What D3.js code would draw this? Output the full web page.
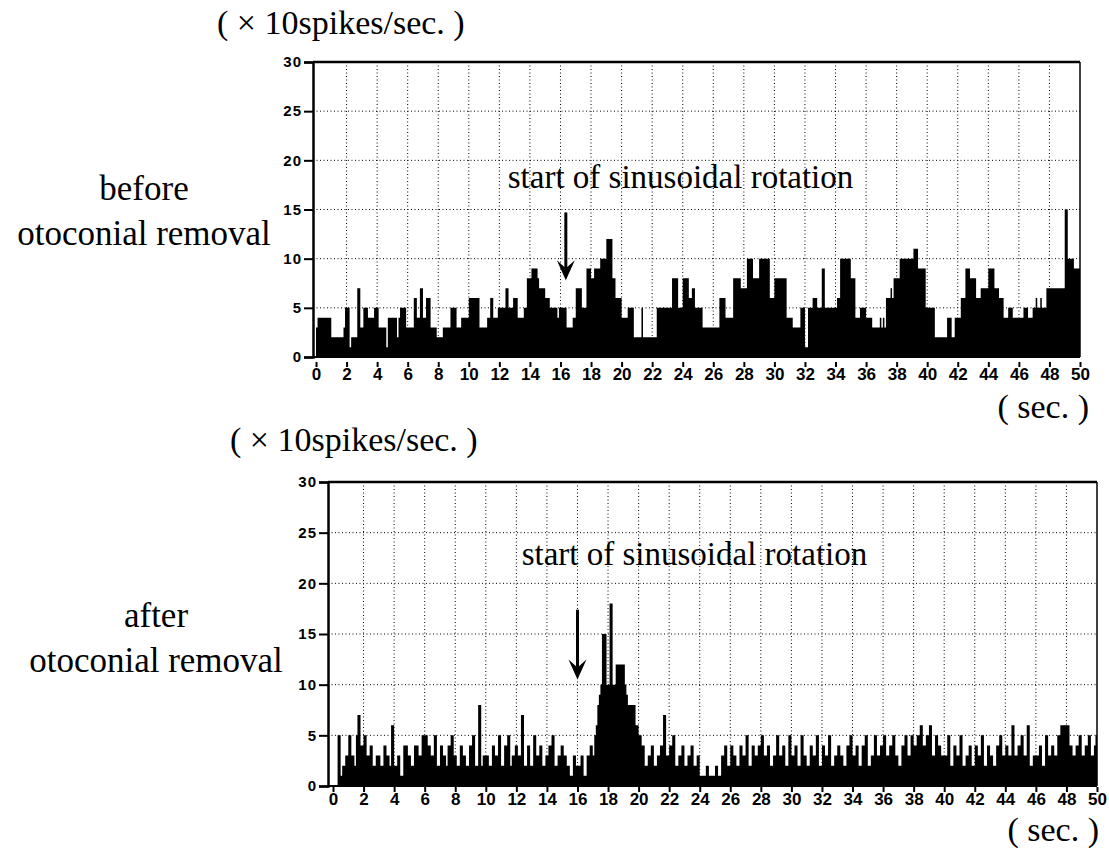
<!DOCTYPE html>
<html>
<head>
<meta charset="utf-8">
<script src="https://cdn.jsdelivr.net/npm/d3@7"></script>
<style>
  body { margin: 0; background: #fff; }
  .serif { font-family: "Liberation Serif", "Times New Roman", serif; fill: #000; }
  .tick text { font-family: "Liberation Sans", Arial, sans-serif; font-weight: bold; fill: #000; }
</style>
</head>
<body>
<svg id="chart" width="1109" height="850"></svg>
<script>
// spike counts per 0.1 s bin (x10 spikes/sec), one row = 2 s
const binWidth = 0.1;
const beforeCounts = [
  3,4,4,4,4,4,4,4,4,4,2,2,2,2,2,2,2,2,3,5,
  5,5,1,2,2,2,2,7,7,3,3,5,5,5,4,4,4,4,5,5,
  5,3,3,3,3,3,1,4,4,4,4,4,4,2,4,5,5,5,5,3,
  3,3,3,3,6,6,4,4,7,7,4,4,6,6,6,3,3,3,3,2,
  2,2,2,3,3,3,3,3,5,5,5,5,3,3,3,4,4,4,4,4,
  6,6,6,6,6,6,6,3,3,3,3,3,4,4,6,6,4,4,4,5,
  5,5,5,5,7,7,5,5,5,6,6,6,4,4,4,4,5,5,8,8,
  8,9,9,9,9,8,7,7,7,7,6,6,6,5,5,5,5,5,4,5,
  5,5,5,5,3,3,3,3,4,4,7,7,7,7,5,5,5,9,9,9,
  8,8,9,9,9,9,10,10,10,10,12,12,12,12,8,8,6,6,6,6,
  4,4,4,4,5,5,5,5,2,2,2,2,2,5,2,2,2,2,2,2,
  2,2,2,5,5,5,5,5,5,5,5,5,5,8,8,8,8,5,5,5,
  8,8,8,8,6,6,7,7,5,5,5,5,5,3,3,3,3,3,3,3,
  3,3,3,3,6,6,6,6,4,4,4,4,4,8,8,8,8,8,7,7,
  7,7,10,10,10,10,8,8,8,8,10,10,10,10,10,10,10,6,6,6,
  8,8,8,8,8,8,8,8,4,4,4,4,3,3,3,3,3,5,5,5,
  1,1,5,5,5,6,6,6,5,5,5,9,9,5,5,5,5,5,5,5,
  5,6,6,10,10,10,10,10,10,10,8,8,8,4,4,4,5,5,5,5,
  4,4,4,4,3,3,3,3,3,4,3,4,3,6,6,6,7,6,8,8,
  8,8,10,10,10,10,10,10,10,10,10,11,11,11,9,9,9,9,9,5,
  5,5,5,5,5,2,2,2,2,2,2,2,2,4,4,4,2,2,4,4,
  4,4,6,6,6,9,9,9,8,8,8,8,6,6,6,7,7,7,7,7,
  9,9,9,9,7,7,7,6,6,6,4,4,4,5,5,5,4,4,4,4,
  4,4,4,5,5,5,4,4,4,5,5,6,5,5,6,5,5,5,7,7,
  7,7,7,7,7,7,7,7,7,7,15,15,10,10,10,10,9,9,9,9
];
const afterCounts = [
  0,0,0,5,5,1,2,2,3,3,5,5,3,3,2,5,7,7,4,4,
  5,5,3,3,4,4,2,2,3,3,3,2,2,4,4,3,3,2,6,6,
  2,2,3,3,1,1,4,4,4,3,3,2,2,4,4,4,3,3,5,5,
  5,5,4,4,3,3,5,5,2,2,4,4,3,3,2,4,4,5,5,3,
  3,2,2,4,4,3,3,2,2,4,4,5,5,2,2,8,8,2,3,3,
  3,3,2,2,4,4,3,3,5,5,2,2,4,4,5,5,2,3,3,4,
  4,3,3,7,7,2,2,4,4,2,2,5,5,3,3,4,4,2,2,3,
  3,4,4,5,5,2,2,3,3,4,4,3,3,2,2,1,1,3,3,2,
  2,2,3,3,1,1,3,3,4,4,3,5,6,8,9,10,15,15,15,10,
  10,18,18,10,10,12,12,12,12,12,12,10,9,8,8,8,8,8,6,6,
  5,5,4,4,2,2,3,3,4,4,2,2,3,3,4,4,7,7,3,3,
  4,4,5,5,2,2,3,3,4,4,2,2,3,3,4,4,2,2,3,3,
  1,1,1,1,2,2,1,1,1,1,2,2,1,1,3,3,4,4,2,2,
  4,4,3,3,2,2,4,4,3,3,5,5,2,2,4,4,3,3,4,4,
  5,5,3,3,4,4,2,2,3,3,5,5,3,3,4,4,2,2,5,5,
  3,3,4,4,2,2,5,5,3,3,2,2,4,4,3,3,5,5,2,2,
  4,4,3,3,5,5,2,2,3,3,4,4,3,3,2,2,4,4,5,5,
  3,3,4,4,2,2,4,4,5,5,2,2,3,3,5,5,3,3,4,4,
  5,5,3,3,4,4,5,5,3,3,2,2,4,4,5,5,3,3,5,5,
  4,4,5,5,6,6,4,4,5,5,6,6,3,3,5,5,4,4,3,3,
  3,3,5,5,2,2,4,4,3,3,5,5,2,2,3,3,4,4,2,2,
  4,4,3,3,5,5,2,2,4,4,3,3,2,2,4,4,5,5,3,3,
  4,4,3,3,6,6,3,3,4,4,5,5,3,3,6,6,2,2,3,3,
  3,3,4,4,2,2,5,5,3,3,4,4,3,3,5,5,6,6,6,6,
  6,6,4,4,3,3,4,4,5,5,3,3,4,4,5,5,3,3,4,5
];
const xTicks = d3.range(0, 51, 2);
const yTicks = [0, 5, 10, 15, 20, 25, 30];
const xGrid = d3.range(2, 50, 2);
const yGrid = [5, 10, 15, 20, 25];
const unitLabel = "( \u00d7 10spikes/sec. )";
const timeLabel = "( sec. )";
const noteLabel = "start of sinusoidal rotation";
// arrow: [time, from value, to value]; note text anchor: [time, value]
const beforeArrow = [16.35, 14.7, 7.8];
const afterArrow = [16.0, 17.4, 10.5];
const beforeNote = [12.55, 17.2];
const afterNote = [12.35, 21.8];

const svg = d3.select("#chart");

function drawPanel(p) {
  const x = d3.scaleLinear().domain([0, 50]).range([p.x0, p.x1]);
  const y = d3.scaleLinear().domain([0, 30]).range([p.y0, p.y1]);
  const g = svg.append("g");

  // dotted grid
  g.selectAll(".vgrid").data(xGrid).join("line")
    .attr("x1", d => x(d)).attr("x2", d => x(d))
    .attr("y1", y(30)).attr("y2", y(0))
    .attr("stroke", "#000").attr("stroke-width", 1)
    .attr("stroke-dasharray", "1,2.5");
  g.selectAll(".hgrid").data(yGrid).join("line")
    .attr("x1", p.axisX).attr("x2", x(50))
    .attr("y1", d => y(d)).attr("y2", d => y(d))
    .attr("stroke", "#000").attr("stroke-width", 1)
    .attr("stroke-dasharray", "1,2.5");

  // histogram drawn as one stepped area so the bins join up
  const steps = p.counts.concat([p.counts[p.counts.length - 1]]);
  const area = d3.area()
    .x((d, i) => x(i * binWidth))
    .y0(y(0))
    .y1(d => y(d))
    .curve(d3.curveStepAfter);
  g.append("path").datum(steps).attr("d", area).attr("fill", "#000");

  // frame
  g.append("line").attr("x1", p.axisX).attr("x2", x(50))
    .attr("y1", y(30)).attr("y2", y(30))
    .attr("stroke", "#000").attr("stroke-width", 2.5);
  g.append("line").attr("x1", x(50)).attr("x2", x(50))
    .attr("y1", y(30)).attr("y2", y(0))
    .attr("stroke", "#000").attr("stroke-width", 1.5);
  g.append("line").attr("x1", p.axisX).attr("x2", x(50))
    .attr("y1", y(0)).attr("y2", y(0))
    .attr("stroke", "#000").attr("stroke-width", 2);

  // y axis
  const yAxis = g.append("g")
    .attr("transform", `translate(${p.axisX},0)`)
    .call(d3.axisLeft(y).tickValues(yTicks).tickSize(9).tickPadding(2));
  yAxis.select(".domain").attr("stroke-width", 2.5);
  yAxis.selectAll(".tick line").attr("stroke-width", 2);
  yAxis.selectAll(".tick text").style("font-size", "15px")
    .attr("letter-spacing", "1px");

  // x axis
  const xAxis = g.append("g")
    .attr("transform", `translate(0,${y(0) + p.tickGap})`)
    .call(d3.axisBottom(x).tickValues(xTicks).tickSize(5).tickPadding(1));
  xAxis.select(".domain").remove();
  xAxis.selectAll(".tick line").attr("stroke-width", 2);
  xAxis.selectAll(".tick text").style("font-size", "17px");

  // arrow marking start of rotation
  const ax = x(p.arrow[0]), ay1 = y(p.arrow[1]), ay2 = y(p.arrow[2]);
  g.append("line").attr("x1", ax).attr("x2", ax)
    .attr("y1", ay1).attr("y2", ay2 - 12)
    .attr("stroke", "#000").attr("stroke-width", 3);
  g.append("path")
    .attr("d", `M${ax - 9},${ay2 - 20} L${ax},${ay2} L${ax + 9},${ay2 - 20} L${ax},${ay2 - 12} Z`)
    .attr("fill", "#000");

  g.append("text").attr("class", "serif")
    .attr("x", x(p.note[0])).attr("y", y(p.note[1]))
    .style("font-size", "33px").text(noteLabel);

  // labels
  g.append("text").attr("class", "serif")
    .attr("x", p.unitPos[0]).attr("y", p.unitPos[1])
    .style("font-size", "34px").text(unitLabel);
  g.append("text").attr("class", "serif")
    .attr("x", p.secPos[0]).attr("y", p.secPos[1])
    .attr("text-anchor", "end")
    .style("font-size", "34px").text(timeLabel);
  const lab = g.append("text").attr("class", "serif")
    .attr("text-anchor", "middle").style("font-size", "35px");
  lab.append("tspan").attr("x", p.labelPos[0]).attr("y", p.labelPos[1]).text(p.label[0]);
  lab.append("tspan").attr("x", p.labelPos[0]).attr("y", p.labelPos[1] + 45).text(p.label[1]);
}

drawPanel({
  counts: beforeCounts, x0: 316, x1: 1080, y0: 357, y1: 62, axisX: 313, tickGap: 5,
  arrow: beforeArrow, note: beforeNote,
  unitPos: [217, 34], secPos: [1089, 418],
  label: ["before", "otoconial removal"], labelPos: [144, 200]
});
drawPanel({
  counts: afterCounts, x0: 333, x1: 1097, y0: 786, y1: 482, axisX: 328, tickGap: 1,
  arrow: afterArrow, note: afterNote,
  unitPos: [230, 451], secPos: [1099, 841],
  label: ["after", "otoconial removal"], labelPos: [156, 627]
});
</script>
</body>
</html>
